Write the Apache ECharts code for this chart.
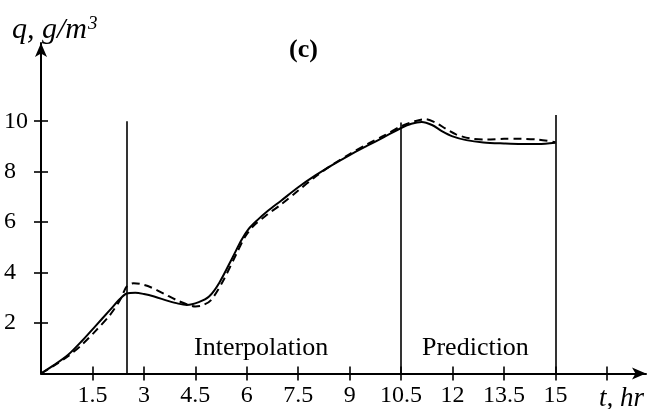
<!DOCTYPE html>
<html>
<head>
<meta charset="utf-8">
<script src="https://cdn.jsdelivr.net/npm/echarts@6/dist/echarts.min.js"></script>
<style>
  html, body { margin: 0; padding: 0; background: #fff; }
  #chart { width: 648px; height: 409px; }
</style>
</head>
<body>
<div id="chart"></div>
<script>
// Measured concentration (solid) and model (dashed), q in g/m^3 versus t in hours
const measuredT = [0, 0.4, 0.8, 1.2, 1.6, 2.0, 2.3, 2.5, 2.75, 3.0, 3.3, 3.7, 4.0, 4.25, 4.6, 4.9, 5.2, 5.6, 5.85, 6.05, 6.3, 6.6, 7.0, 7.5, 8.0, 8.5, 9.0, 9.5, 10.0, 10.5, 10.8, 11.1, 11.4, 11.7, 12.0, 12.4, 12.9, 13.5, 14.0, 14.5, 15.0];
const measuredQ = [0, 0.35, 0.75, 1.3, 1.9, 2.5, 2.95, 3.17, 3.2, 3.15, 3.05, 2.88, 2.77, 2.72, 2.83, 3.05, 3.6, 4.64, 5.3, 5.72, 6.07, 6.43, 6.85, 7.38, 7.85, 8.27, 8.66, 9.02, 9.37, 9.73, 9.9, 9.97, 9.85, 9.6, 9.4, 9.25, 9.16, 9.12, 9.1, 9.1, 9.15];

const modelT = [0, 0.4, 0.8, 1.2, 1.6, 2.0, 2.3, 2.5, 2.7, 2.9, 3.2, 3.6, 4.0, 4.3, 4.5, 4.7, 4.95, 5.3, 5.7, 5.95, 6.2, 6.6, 7.0, 7.5, 8.0, 8.5, 9.0, 9.5, 10.0, 10.5, 10.9, 11.2, 11.5, 11.8, 12.1, 12.5, 13.0, 13.5, 14.0, 14.5, 15.0];
const modelQ = [0, 0.33, 0.7, 1.15, 1.7, 2.3, 2.9, 3.45, 3.58, 3.55, 3.42, 3.15, 2.88, 2.72, 2.66, 2.7, 2.9, 3.65, 4.75, 5.42, 5.85, 6.3, 6.7, 7.25, 7.8, 8.28, 8.7, 9.08, 9.43, 9.8, 10.0, 10.08, 9.95, 9.7, 9.48, 9.32, 9.27, 9.3, 9.3, 9.27, 9.17];

// Boundaries of the interpolation / prediction intervals
const boundaryT = [2.5, 10.5, 15];
const boundaryTop = [10, 9.95, 10.25];

// Axis ticks and labels
const xTicks = [1.5, 3, 4.5, 6, 7.5, 9, 10.5, 12, 13.5, 15, 16.5];
const xLabels = [1.5, 3, 4.5, 6, 7.5, 9, 10.5, 12, 13.5, 15];
const yTicks = [2, 4, 6, 8, 10];
const yLabels = [2, 4, 6, 8, 10];

const title = '(c)';
const regionNames = ['Interpolation', 'Prediction'];

const SERIF = '"Liberation Serif", "DejaVu Serif", serif';
const X_MAX = 17.64, Y_MAX = 13.1;

function pairs(xs, ys) { return xs.map((x, i) => [x, ys[i]]); }

const chart = echarts.init(document.getElementById('chart'), null, { renderer: 'canvas' });

function xAxisCfg(inside, main) {
  return {
    type: 'value', min: 0, max: X_MAX, position: 'bottom',
    axisLine: main ? { show: true, lineStyle: { color: '#000', width: 2 }, symbol: ['none', 'arrow'], symbolSize: [9, 14] } : { show: false },
    axisTick: { show: true, inside: inside, length: 7, customValues: xTicks, lineStyle: { color: '#000', width: 1.6 } },
    axisLabel: main ? { show: true, customValues: xLabels, color: '#000', fontFamily: SERIF, fontSize: 24, margin: 10 } : { show: false },
    splitLine: { show: false }
  };
}
function yAxisCfg(inside, main) {
  return {
    type: 'value', min: 0, max: Y_MAX, position: 'left',
    axisLine: main ? { show: true, lineStyle: { color: '#000', width: 2 }, symbol: ['none', 'arrow'], symbolSize: [9, 14] } : { show: false },
    axisTick: { show: true, inside: inside, length: 7, customValues: yTicks, lineStyle: { color: '#000', width: 1.6 } },
    axisLabel: main ? { show: true, customValues: yLabels, color: '#000', fontFamily: SERIF, fontSize: 24, margin: 37, align: 'left' } : { show: false },
    splitLine: { show: false }
  };
}

const option = {
  backgroundColor: '#fff',
  animation: false,
  grid: { left: 41, right: 2, top: 43, bottom: 35.5, containLabel: false },
  xAxis: [xAxisCfg(false, true), xAxisCfg(true, false)],
  yAxis: [yAxisCfg(false, true), yAxisCfg(true, false)],
  graphic: [
    { type: 'text', left: 289, top: 37, style: { text: title, font: 'bold 26px ' + SERIF, fill: '#000' } },
    { type: 'text', left: 12, top: 14, style: {
        text: '{a|q, g/m}{s|3}', fill: '#000',
        rich: {
          a: { font: 'italic 30px ' + SERIF, fill: '#000' },
          s: { font: 'italic 19px ' + SERIF, fill: '#000', verticalAlign: 'top', padding: [0, 0, 14, 1] }
        } } },
    { type: 'text', left: 599, top: 385, style: { text: 't, hr', font: 'italic 27px ' + SERIF, fill: '#000' } },
    { type: 'text', left: 194, top: 335, style: { text: regionNames[0], font: '26px ' + SERIF, fill: '#000' } },
    { type: 'text', left: 422, top: 335, style: { text: regionNames[1], font: '26px ' + SERIF, fill: '#000' } }
  ],
  series: [
    {
      type: 'line', name: 'measured', data: pairs(measuredT, measuredQ),
      smooth: 0.3, symbol: 'none',
      lineStyle: { color: '#000', width: 2 },
      markLine: {
        silent: true, symbol: ['none', 'none'], label: { show: false },
        lineStyle: { color: '#000', width: 1.6, type: 'solid' },
        data: boundaryT.map((t, i) => [{ coord: [t, 0] }, { coord: [t, boundaryTop[i]] }])
      }
    },
    {
      type: 'line', name: 'model', data: pairs(modelT, modelQ),
      smooth: 0.3, symbol: 'none',
      lineStyle: { color: '#000', width: 2, type: [8, 5] }
    }
  ]
};
chart.setOption(option);
</script>
</body>
</html>
